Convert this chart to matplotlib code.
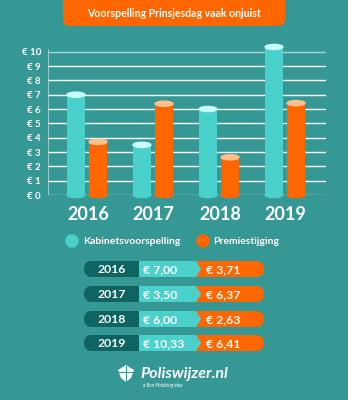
import matplotlib
matplotlib.use("Agg")
import matplotlib.pyplot as plt
from matplotlib.patches import Ellipse, FancyBboxPatch, Polygon, Circle

plt.rcParams['font.family'] = ['Lato', 'DejaVu Sans']

# data
years = ['2016', '2017', '2018', '2019']
kabinet = [7.00, 3.50, 6.00, 10.33]
premie = [3.71, 6.37, 2.63, 6.41]
yticks = list(range(0, 11))
title = 'Voorspelling Prinsjesdag vaak onjuist'
legend_labels = ['Kabinetsvoorspelling', 'Premiestijging']

bg = '#359895'
cyan = '#4bd1cb'
cyan_top = '#c9fdfd'
orange = '#ff6600'
orange_top = '#ffc08c'
dark = '#0e6461'

W, H = 348, 400
fig = plt.figure(figsize=(W / 100, H / 100), dpi=100)
fig.patch.set_facecolor(bg)

# bar chart axes, placed in pixel terms
px_left, px_right, px_zero = 48, 326, 195
ppu = 14.33  # pixels per euro
ytop = 10.9
ax = fig.add_axes([px_left / W, (H - px_zero) / H, (px_right - px_left) / W, ytop * ppu / H])
ax.set_facecolor('none')
ax.set_xlim(-0.59, 3.62)
ax.set_ylim(0, ytop)
for s in ax.spines.values():
    s.set_visible(False)
ax.set_xticks([])
ax.set_yticks(yticks)
ax.set_yticklabels([f'€ {t}' for t in yticks], color='white', fontsize=7, fontweight='bold')
ax.tick_params(axis='y', length=0, pad=5)

for t in yticks:
    c = '#a9d6d4' if t in (0, 10) else 'white'
    ax.axhline(t, color=c, lw=1.0, zorder=1)
ax.axvline(-0.59, ymin=0, ymax=10 / ytop + 0.01, color='#a9d6d4', lw=1.2, zorder=1)

bw = 0.27
off = 0.167
eh = 0.36
for i in range(len(years)):
    for x, v, c, ct in [(i - off, kabinet[i], cyan, cyan_top), (i + off, premie[i], orange, orange_top)]:
        ax.add_patch(Ellipse((x, 0), bw, eh, color=c, zorder=2, clip_on=False))
        ax.bar(x, v, width=bw, color=c, zorder=3)
        ax.add_patch(Ellipse((x, v), bw, eh, color=ct, zorder=4, clip_on=False))

# overlay in pixel coordinates
ov = fig.add_axes([0, 0, 1, 1])
ov.set_xlim(0, W)
ov.set_ylim(H, 0)
ov.axis('off')
ov.patch.set_alpha(0)

ov.add_patch(FancyBboxPatch((63, -12), 222, 38, boxstyle='round,pad=0,rounding_size=7',
                            color=orange, lw=0))
ov.text(174, 13.5, title, color='white', fontsize=7.6, fontweight='bold', ha='center', va='center')

centers = [88, 153, 220, 285]
for cx, yr in zip(centers, years):
    ov.text(cx, 214, yr, color='white', fontsize=13, fontweight='bold', ha='center', va='center')

# legend
ov.add_patch(Circle((72, 241), 6, color=cyan))
ov.text(83, 241, legend_labels[0], color='white', fontsize=7.5, fontweight='bold', va='center')
ov.add_patch(Circle((203, 241), 6, color=orange))
ov.text(213, 241, legend_labels[1], color='white', fontsize=7.5, fontweight='bold', va='center')

# table
row_y = [269, 294, 319, 343]
hh = 8
for ry, yr, k, p in zip(row_y, years, kabinet, premie):
    ov.add_patch(FancyBboxPatch((150, ry - hh), 114, 2 * hh, boxstyle=f'round,pad=0,rounding_size={hh}',
                                color=orange, lw=0))
    ov.add_patch(FancyBboxPatch((84, ry - hh), 76, 2 * hh, boxstyle=f'round,pad=0,rounding_size={hh}',
                                color=dark, lw=0))
    ov.add_patch(Polygon([(139, ry - hh), (196, ry - hh), (201, ry), (196, ry + hh), (139, ry + hh)],
                         closed=True, color=cyan, lw=0))
    ov.text(112, ry + 0.5, yr, color='white', fontsize=8.8, fontweight='bold', ha='center', va='center')
    ov.text(143, ry + 0.5, '€ ' + f'{k:.2f}'.replace('.', ','), color='white', fontsize=8.8,
            fontweight='bold', va='center')
    ov.text(206, ry + 0.5, '€ ' + f'{p:.2f}'.replace('.', ','), color='white', fontsize=8.8,
            fontweight='bold', va='center')

# logo
ov.add_patch(Polygon([(118, 370), (126, 365), (134, 370), (131, 378), (126, 382), (121, 378)],
                     closed=True, color='white', lw=0))
ov.plot([118, 134], [372, 372], color=bg, lw=0.8)
ov.plot([126, 126], [366, 381], color=bg, lw=0.8)
ov.text(140, 374, 'Poliswijzer.nl', color='white', fontsize=11.5, fontweight='bold', style='italic',
        va='center')
ov.text(143, 386, 'a Ben Moldring idea', color='white', fontsize=3.4, style='italic', va='center')

fig.savefig('out.png', dpi=100, facecolor=bg)
